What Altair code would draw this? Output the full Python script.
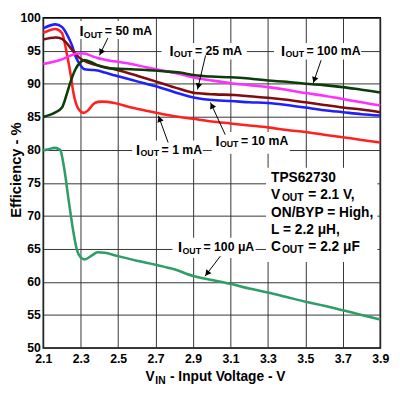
import math
import altair as alt
import pandas as pd

FONT = "Liberation Sans"

# ---------------- data ----------------
vin_100ua = [2.10, 2.13, 2.16, 2.19, 2.21, 2.235, 2.26, 2.28, 2.30, 2.32, 2.36, 2.39, 2.43, 2.50,
             2.60, 2.70, 2.80, 2.90, 3.00, 3.10, 3.20, 3.30, 3.40, 3.50, 3.60, 3.70, 3.80, 3.90]
eff_100ua = [79.9, 80.1, 80.3, 80.0, 77.5, 72.5, 67.7, 64.8, 63.7, 63.4, 64.0, 64.5, 64.4, 63.9,
             63.2, 62.6, 61.9, 60.9, 60.3, 59.7, 59.0, 58.4, 57.7, 57.0, 56.4, 55.7, 55.0, 54.3]

vin_1ma = [2.10, 2.165, 2.20, 2.227, 2.245, 2.262, 2.288, 2.315, 2.34, 2.375, 2.41, 2.48, 2.57,
           2.62, 2.74, 2.80, 2.90, 3.00, 3.10, 3.20, 3.30, 3.40, 3.50, 3.60, 3.70, 3.80, 3.90]
eff_1ma = [97.7, 98.3, 97.7, 94.4, 91.6, 88.5, 86.2, 85.6, 86.0, 87.1, 87.3, 87.1, 86.4,
           86.1, 85.4, 85.1, 84.7, 84.3, 84.0, 83.7, 83.4, 83.0, 82.7, 82.3, 81.9, 81.5, 81.1]

vin_10ma = [2.10, 2.165, 2.20, 2.235, 2.255, 2.27, 2.29, 2.32, 2.36, 2.39, 2.43, 2.48, 2.57,
            2.65, 2.74, 2.83, 2.91, 3.02, 3.10, 3.20, 3.30, 3.40, 3.50, 3.60, 3.70, 3.80, 3.90]
eff_10ma = [98.4, 99.0, 98.6, 97.0, 95.7, 94.3, 93.2, 92.2, 92.1, 92.0, 91.7, 91.3, 90.6,
            90.0, 89.3, 88.5, 87.9, 87.5, 87.4, 87.2, 87.1, 86.8, 86.4, 86.0, 85.7, 85.4, 85.2]

vin_25ma = [2.10, 2.165, 2.20, 2.22, 2.25, 2.29, 2.34, 2.39, 2.48, 2.57, 2.65, 2.74, 2.83,
            2.91, 3.02, 3.12, 3.20, 3.30, 3.40, 3.50, 3.60, 3.70, 3.80, 3.90]
eff_25ma = [96.7, 97.0, 96.8, 96.3, 95.3, 94.0, 93.2, 92.8, 92.2, 91.5, 90.8, 90.0, 89.2,
            88.6, 88.4, 88.3, 88.1, 87.9, 87.6, 87.2, 86.8, 86.4, 86.1, 85.7]

vin_50ma = [2.10, 2.15, 2.20, 2.24, 2.28, 2.32, 2.35, 2.39, 2.48, 2.57, 2.65, 2.74, 2.83,
            2.91, 3.00, 3.10, 3.20, 3.30, 3.40, 3.50, 3.60, 3.70, 3.80, 3.90]
eff_50ma = [93.0, 93.3, 93.7, 94.2, 94.6, 94.6, 94.3, 93.9, 93.4, 93.0, 92.5, 92.0, 91.5,
            90.9, 90.5, 90.1, 89.8, 89.5, 89.1, 88.6, 88.2, 87.7, 87.2, 86.7]

vin_100ma = [2.10, 2.16, 2.20, 2.225, 2.24, 2.27, 2.30, 2.32, 2.355, 2.39, 2.44, 2.48, 2.57,
             2.65, 2.74, 2.83, 2.91, 3.00, 3.10, 3.20, 3.30, 3.40, 3.50, 3.60, 3.70, 3.80, 3.90]
eff_100ma = [85.0, 85.6, 86.4, 88.4, 89.8, 92.1, 93.3, 93.6, 93.3, 92.8, 92.4, 92.3, 92.2,
             92.1, 91.9, 91.7, 91.3, 91.1, 91.0, 90.8, 90.5, 90.3, 90.0, 89.8, 89.5, 89.1, 88.7]

series_names = ["100uA", "1mA", "10mA", "25mA", "50mA", "100mA"]
series_colors = ["#2f9d67", "#ff2020", "#2020ff", "#800d0d", "#ff30ff", "#0b3d0b"]
series_x = [vin_100ua, vin_1ma, vin_10ma, vin_25ma, vin_50ma, vin_100ma]
series_y = [eff_100ua, eff_1ma, eff_10ma, eff_25ma, eff_50ma, eff_100ma]

x_ticks = [2.1, 2.3, 2.5, 2.7, 2.9, 3.1, 3.3, 3.5, 3.7, 3.9]
y_ticks = [50, 55, 60, 65, 70, 75, 80, 85, 90, 95, 100]

# I_OUT annotation labels (anchor = left edge of the "I")
lab_rest = ["= 50 mA", "= 25 mA", "= 100 mA", "= 10 mA", "= 1 mA", "= 100 \u03bcA"]
lab_x = [2.293, 2.774, 3.370, 3.020, 2.596, 2.820]
lab_y = [97.95, 95.00, 95.00, 81.33, 80.00, 65.25]
# white boxes behind labels
box_x1 = [2.277, 2.732, 3.333, 3.000, 2.575, 2.790, 3.290]
box_x2 = [2.690, 3.187, 3.798, 3.417, 2.952, 3.234, 3.885]
box_y1 = [99.5, 96.2, 96.2, 82.7, 81.4, 66.7, 77.3]
box_y2 = [96.8, 93.7, 93.7, 79.4, 78.6, 63.6, 63.0]
# arrows: start -> tip
arr_x0 = [2.445, 2.967, 3.584, 3.072, 2.767, 3.046]
arr_y0 = [96.93, 94.30, 93.57, 82.30, 81.10, 63.90]
arr_x1 = [2.400, 2.924, 3.542, 2.993, 2.715, 2.964]
arr_y1 = [94.30, 89.14, 90.10, 87.18, 85.16, 60.86]

# condition text block
tps_x = 3.317
tps_plain = ["TPS62730", "ON/BYP = High,", "L = 2.2 \u03bcH,"]
tps_plain_y = [75.73, 70.40, 67.80]
tps_sub_first = ["V", "C"]
tps_sub_rest = ["= 2.1 V,", "= 2.2 \u03bcF"]
tps_sub_y = [73.20, 65.30]

xtitle_x = 2.646
xtitle_y = 45.6

# ---------------- tables ----------------
rows = []
for n, xs, ys in zip(series_names, series_x, series_y):
    for a, b in zip(xs, ys):
        rows.append({"s": n, "vin": a, "eff": b})
curves = pd.DataFrame(rows)

labels = pd.DataFrame({"x": lab_x, "y": lab_y, "t": lab_rest})
boxes = pd.DataFrame({"x": box_x1, "x2": box_x2, "y": box_y1, "y2": box_y2})

W, H = 344, 337
PX_X = W / 1.8
PX_Y = H / 50.0
arows, heads = [], []
for i, (a0, b0, a1, b1) in enumerate(zip(arr_x0, arr_y0, arr_x1, arr_y1)):
    arows.append({"id": i, "x": a0, "y": b0})
    arows.append({"id": i, "x": a1, "y": b1})
    dxp = (a1 - a0) * PX_X
    dyp = (b0 - b1) * PX_Y
    L = math.hypot(dxp, dyp)
    ux, uy = dxp / L, dyp / L
    ang = math.degrees(math.atan2(dxp, -dyp)) % 360
    heads.append({"x": a1 - 3.5 * ux / PX_X, "y": b1 + 3.5 * uy / PX_Y, "ang": ang})
arrows = pd.DataFrame(arows)
heads = pd.DataFrame(heads)

tps_a = pd.DataFrame({"x": [tps_x] * 3, "y": tps_plain_y, "t": tps_plain})
tps_b = pd.DataFrame({"x": [tps_x] * 2, "y": tps_sub_y, "f": tps_sub_first, "t": tps_sub_rest})
xt = pd.DataFrame({"x": [xtitle_x], "y": [xtitle_y]})

# ---------------- chart ----------------
xs_ = alt.Scale(domain=[2.1, 3.9], nice=False, zero=False)
ys_ = alt.Scale(domain=[50, 100], nice=False, zero=False)
x_axis = alt.Axis(values=x_ticks, format=".1f", title=None, labelFlush=False, labelPadding=5)
y_axis = alt.Axis(values=y_ticks, title="Efficiency - %", labelPadding=3, titleX=-28, titleY=155,
                  titleAngle=270, titleAlign="center", titleBaseline="middle",
                  titleFont=FONT, titleFontSize=15, titleFontWeight="bold", titleColor="black")


def X(f="x"):
    return alt.X(f"{f}:Q", scale=xs_, axis=x_axis)


def Y(f="y"):
    return alt.Y(f"{f}:Q", scale=ys_, axis=y_axis)


txt = dict(font=FONT, fontWeight="bold", color="black", align="left", baseline="middle")

box_layer = alt.Chart(boxes).mark_rect(color="white").encode(
    x=X(), x2="x2:Q", y=Y(), y2="y2:Q")

curve_layer = alt.Chart(curves).mark_line(strokeWidth=2.6, interpolate="monotone").encode(
    x=X("vin"), y=Y("eff"),
    color=alt.Color("s:N", scale=alt.Scale(domain=series_names, range=series_colors), legend=None))

arrow_layer = alt.Chart(arrows).mark_line(color="black", strokeWidth=1).encode(
    x=X(), y=Y(), detail="id:N")
head_layer = alt.Chart(heads).mark_point(shape="triangle-up", filled=True, size=45,
                                         color="black", opacity=1).encode(
    x=X(), y=Y(), angle=alt.Angle("ang:Q", scale=None))

l_I = alt.Chart(labels).mark_text(text="I", fontSize=15, **txt).encode(x=X(), y=Y())
l_O = alt.Chart(labels).mark_text(text="OUT", fontSize=9, dx=4.5, dy=3.5, **txt).encode(x=X(), y=Y())
l_R = alt.Chart(labels).mark_text(fontSize=12.5, dx=26, **txt).encode(x=X(), y=Y(), text="t:N")

t_A = alt.Chart(tps_a).mark_text(fontSize=14, **txt).encode(x=X(), y=Y(), text="t:N")
t_F = alt.Chart(tps_b).mark_text(fontSize=14, **txt).encode(x=X(), y=Y(), text="f:N")
t_O = alt.Chart(tps_b).mark_text(text="OUT", fontSize=10.5, dx=11, dy=3.5, **txt).encode(x=X(), y=Y())
t_R = alt.Chart(tps_b).mark_text(fontSize=14, dx=38, **txt).encode(x=X(), y=Y(), text="t:N")

x_V = alt.Chart(xt).mark_text(text="V", fontSize=14, **txt).encode(x=X(), y=Y())
x_I = alt.Chart(xt).mark_text(text="IN", fontSize=10.5, dx=10, dy=4, **txt).encode(x=X(), y=Y())
x_R = alt.Chart(xt).mark_text(text="- Input Voltage - V", fontSize=14, dx=25, **txt).encode(x=X(), y=Y())

chart = alt.layer(
    box_layer, curve_layer, arrow_layer, head_layer,
    l_I, l_O, l_R, t_A, t_F, t_O, t_R, x_V, x_I, x_R
).properties(
    width=W, height=H,
    autosize=alt.AutoSizeParams(type="none"),
    padding={"left": 36, "top": 6, "right": 12, "bottom": 40},
).configure_view(
    stroke="black", strokeWidth=1.5
).configure_axis(
    grid=True, gridColor="#333333", gridWidth=1, gridOpacity=1,
    domain=False, ticks=False,
    labelFont=FONT, labelFontWeight="bold", labelFontSize=12.5, labelColor="black",
)

chart.save("out.html", embed_options={"renderer": "svg", "actions": False})
